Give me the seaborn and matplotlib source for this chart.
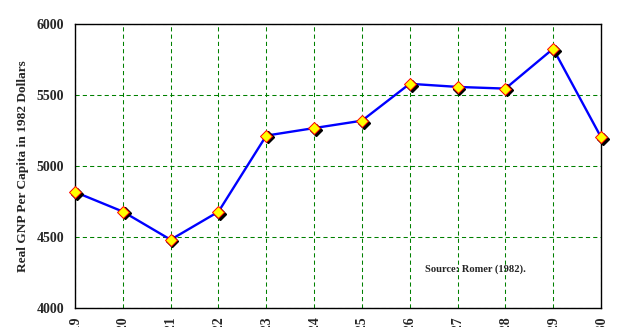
import matplotlib
matplotlib.use("Agg")
import matplotlib.pyplot as plt
import matplotlib.transforms as mtransforms
import seaborn as sns
import pandas as pd

years = [1919, 1920, 1921, 1922, 1923, 1924, 1925, 1926, 1927, 1928, 1929, 1930]
gnp = [4817, 4679, 4481, 4678, 5214, 5267, 5319, 5579, 5557, 5545, 5826, 5203]
y_ticks = [4000, 4500, 5000, 5500, 6000]
y_label = "Real GNP Per Capita in 1982 Dollars"
source_text = "Source: Romer (1982)."

df = pd.DataFrame({"year": years, "gnp": gnp})

sns.set_style("white")
plt.rcParams["font.family"] = ["Liberation Serif", "DejaVu Serif"]
plt.rcParams["font.weight"] = "bold"

fig = plt.figure(figsize=(6.23, 3.27), dpi=100)
ax = fig.add_axes([75 / 623, 19 / 327, 526 / 623, 284 / 327])

sns.lineplot(data=df, x="year", y="gnp", ax=ax, color="#0000ff", linewidth=1.7, zorder=3)

shadow = mtransforms.offset_copy(ax.transData, fig=fig, x=1.8, y=-1.8, units="dots")
ax.plot(df["year"], df["gnp"], linestyle="none", marker="D", markersize=5.8,
        color="black", transform=shadow, zorder=4, clip_on=False)
ax.plot(df["year"], df["gnp"], linestyle="none", marker="D", markersize=5.8,
        markerfacecolor="#ffff00", markeredgecolor="#ff0000", markeredgewidth=0.7,
        zorder=5, clip_on=False)

ax.set_xlim(years[0], years[-1])
ax.set_ylim(y_ticks[0], y_ticks[-1])
ax.set_xticks(years)
ax.set_xticklabels([str(y) for y in years], rotation=90, fontsize=10, fontweight="bold")
ax.set_yticks(y_ticks)
ax.set_yticklabels([str(v) for v in y_ticks], fontsize=10, fontweight="bold")
ax.tick_params(axis="both", direction="out", length=3, width=0.8, color="black")
ax.tick_params(axis="x", pad=2.2)
ax.tick_params(axis="y", pad=5)
ax.set_xlabel("")
ax.set_ylabel(y_label, fontsize=9.6, fontweight="bold")
ax.yaxis.set_label_coords(-0.088, 0.5)

ax.grid(True, color="#008000", linestyle=(0, (4, 3)), linewidth=0.75)
ax.set_axisbelow(True)
for sp in ax.spines.values():
    sp.set_visible(True)
    sp.set_color("black")
    sp.set_linewidth(1.0)

ax.text(0.762, 0.137, source_text, transform=ax.transAxes, ha="center", va="center",
        fontsize=7.6, fontweight="bold")

fig.savefig("out.png", dpi=100)
